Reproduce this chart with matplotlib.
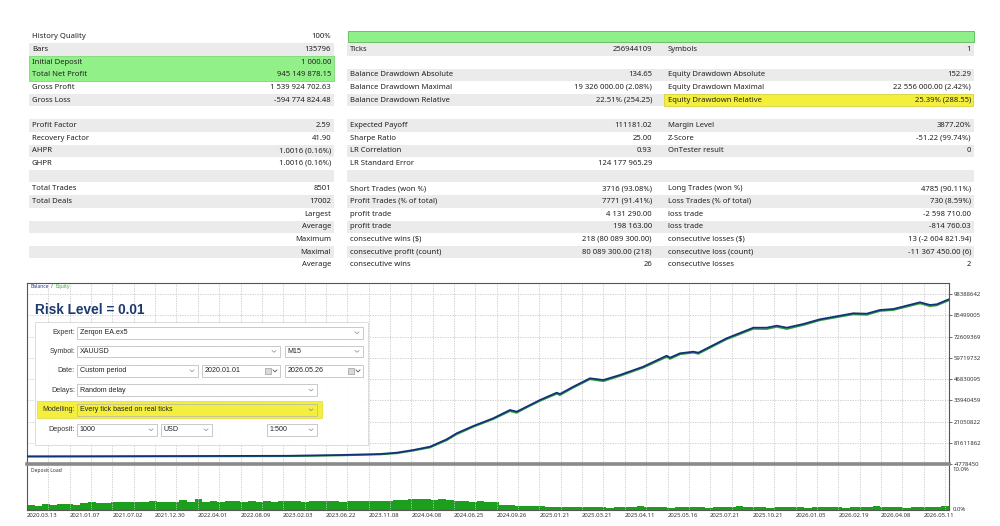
import matplotlib
matplotlib.use("Agg")
import matplotlib.pyplot as plt
from matplotlib.patches import Rectangle
import matplotlib.transforms as mtransforms
import numpy as np

plt.rcParams['font.family'] = ['Noto Sans', 'DejaVu Sans']

# ---------------- report table ----------------
left_labels = ["History Quality", "Bars", "Initial Deposit", "Total Net Profit", "Gross Profit", "Gross Loss", "",
               "Profit Factor", "Recovery Factor", "AHPR", "GHPR", "", "Total Trades", "Total Deals",
               "", "", "", "", ""]
left_values = ["100%", "135796", "1 000.00", "945 149 878.15", "1 539 924 702.63", "-594 774 824.48", "",
               "2.59", "41.90", "1.0016 (0.16%)", "1.0016 (0.16%)", "", "8501", "17002",
               "Largest", "Average", "Maximum", "Maximal", "Average"]
mid_labels = ["", "Ticks", "", "Balance Drawdown Absolute", "Balance Drawdown Maximal", "Balance Drawdown Relative", "",
              "Expected Payoff", "Sharpe Ratio", "LR Correlation", "LR Standard Error", "",
              "Short Trades (won %)", "Profit Trades (% of total)", "profit trade", "profit trade",
              "consecutive wins ($)", "consecutive profit (count)", "consecutive wins"]
mid_values = ["", "256944109", "", "134.65", "19 326 000.00 (2.08%)", "22.51% (254.25)", "",
              "111181.02", "25.00", "0.93", "124 177 965.29", "",
              "3716 (93.08%)", "7771 (91.41%)", "4 131 290.00", "198 163.00",
              "218 (80 089 300.00)", "80 089 300.00 (218)", "26"]
right_labels = ["", "Symbols", "", "Equity Drawdown Absolute", "Equity Drawdown Maximal", "Equity Drawdown Relative", "",
                "Margin Level", "Z-Score", "OnTester result", "", "",
                "Long Trades (won %)", "Loss Trades (% of total)", "loss trade", "loss trade",
                "consecutive losses ($)", "consecutive loss (count)", "consecutive losses"]
right_values = ["", "1", "", "152.29", "22 556 000.00 (2.42%)", "25.39% (288.55)", "",
                "3877.20%", "-51.22 (99.74%)", "0", "", "",
                "4785 (90.11%)", "730 (8.59%)", "-2 598 710.00", "-814 760.03",
                "13 (-2 604 821.94)", "-11 367 450.00 (6)", "2"]

# ---------------- balance / equity (millions, chart units) ----------------
trade_no = [0, 673, 1595, 2397, 2886, 3255, 3409, 3562, 3716, 3870, 3962, 4115, 4299, 4453, 4515,
            4607, 4730, 4884, 4914, 5037, 5191, 5314, 5467, 5682, 5898, 5929, 6021, 6144, 6190,
            6451, 6697, 6820, 6913, 7005, 7158, 7312, 7619, 7742, 7865, 7988, 8234, 8326, 8388, 8501]
balance_m = [0.06, 0.12, 0.24, 0.36, 0.85, 1.45, 2.24, 3.87, 5.87, 10.35, 13.98, 18.40, 23.06, 28.08, 27.05,
             30.08, 34.13, 38.55, 37.76, 42.18, 47.26, 46.23, 49.26, 54.28, 60.94, 59.73, 62.39, 63.36, 62.75,
             71.47, 77.88, 77.88, 79.09, 77.88, 80.12, 82.97, 86.60, 86.36, 88.59, 89.20, 93.25, 91.62, 92.04, 95.07]
equity_m = [0.05, 0.11, 0.22, 0.33, 0.80, 1.38, 2.10, 3.70, 5.60, 10.00, 13.60, 18.10, 22.80, 27.60, 26.60,
            29.80, 33.80, 38.10, 37.30, 41.80, 46.90, 45.70, 48.90, 53.90, 60.40, 59.20, 62.00, 63.00, 62.30,
            71.10, 77.40, 77.30, 78.60, 77.30, 79.70, 82.60, 86.20, 85.90, 88.20, 88.80, 92.80, 91.10, 91.60, 94.70]

# deposit load (%), read left to right at even steps
load_pct = [1.0, 0.9,
            1.2, 1.1, 1.3, 1.2, 1.1,
            1.4, 1.6, 1.5,
            1.5, 1.7, 1.6, 1.8, 1.6, 1.7, 1.9, 1.7, 1.8, 1.7,
            2.2, 1.6, 2.3,
            1.8, 1.9, 1.8, 1.9, 2.0, 1.8, 1.9, 1.8, 1.9, 1.8, 1.9,
            1.9, 2.0, 1.8, 1.9, 1.9, 2.0, 1.9, 1.8, 1.9, 2.0, 2.0, 1.9, 2.0, 1.9, 2.1,
            2.2, 2.4, 2.3, 2.5, 2.2, 2.3,
            2.1, 1.9, 2.0, 1.8, 1.9, 1.7, 1.6,
            1.1, 1.0,
            0.9, 0.8, 0.9, 0.7,
            0.6, 0.5, 0.6, 0.5, 0.6, 0.5,
            0.5, 0.6, 0.4, 0.5, 0.6, 0.5, 0.7, 0.5, 0.6, 0.5, 0.4, 0.6, 0.5, 0.5, 0.6, 0.4,
            0.5, 0.6, 0.5, 0.7, 0.5, 0.5, 0.6, 0.4, 0.5, 0.6, 0.5, 0.5, 0.4, 0.6, 0.5, 0.6,
            0.5, 0.4, 0.6, 0.5, 0.6, 0.7, 0.5, 0.5, 0.6, 0.4, 0.5, 0.6, 0.5, 0.6, 0.7]

y_tick_values = [-4778450, 8111187, 21000822, 33890459, 46780095, 59669732, 72559369, 85449005, 98338642]
y_tick_labels = ["-4778450", "81611862", "21050822", "33940459", "46830095", "59719732",
                 "72609369", "85499005", "98388642"]
x_tick_labels = ["2020.03.13", "2021.01.07", "2021.07.02", "2021.12.30", "2022.04.01", "2022.08.09",
                 "2023.02.03", "2023.06.22", "2023.11.08", "2024.04.08", "2024.06.25", "2024.09.26",
                 "2025.01.21", "2025.03.21", "2025.04.11", "2025.05.16", "2025.07.21", "2025.10.21",
                 "2026.01.05", "2026.02.19", "2026.04.08", "2026.05.11"]

n_trades = 8501

fig = plt.figure(figsize=(10, 5.26), dpi=100)
W, H = 1000, 526


def px_axes(x0, y0, x1, y1):
    return fig.add_axes([x0 / W, 1 - y1 / H, (x1 - x0) / W, (y1 - y0) / H])


# table background layer
tb = fig.add_axes([0, 0, 1, 1])
tb.set_xlim(0, W)
tb.set_ylim(H, 0)
tb.axis('off')

row0, pitch = 36.7, 12.67
for i in range(len(left_labels)):
    c = row0 + pitch * i
    if i % 2 == 1:
        tb.add_patch(Rectangle((29, c - 6.2), 305, 12.4, color='#ebebeb', lw=0))
        tb.add_patch(Rectangle((347, c - 6.2), 627, 12.4, color='#ebebeb', lw=0))

# highlights
tb.add_patch(Rectangle((348, 31), 626, 11, facecolor='#8ff08a', edgecolor='#58b858', lw=0.6))
tb.add_patch(Rectangle((29, row0 + pitch * 2 - 6.4), 305, pitch * 2 + 0.2,
                       facecolor='#92f089', edgecolor='#7bd873', lw=0.6))
tb.add_patch(Rectangle((664, row0 + pitch * 5 - 6.3), 309, 12.6,
                       facecolor='#f3ef3c', edgecolor='#d8d43a', lw=0.6))

tfs = 5.5
for i in range(len(left_labels)):
    c = row0 + pitch * i
    tb.text(32, c, left_labels[i], fontsize=tfs, va='center', ha='left', color='#222222')
    tb.text(331, c, left_values[i], fontsize=tfs, va='center', ha='right', color='#222222')
    tb.text(350, c, mid_labels[i], fontsize=tfs, va='center', ha='left', color='#222222')
    tb.text(652, c, mid_values[i], fontsize=tfs, va='center', ha='right', color='#222222')
    tb.text(668, c, right_labels[i], fontsize=tfs, va='center', ha='left', color='#222222')
    tb.text(971, c, right_values[i], fontsize=tfs, va='center', ha='right', color='#222222')

# ---------------- chart ----------------
y_lo = -4.77845
y_hi = y_lo + (464.3 - 283) * 0.605148
label_step = n_trades * 42.7 / 922
grid_x = np.arange(1, 44) * label_step / 2

ax = px_axes(27, 283, 949, 464.3)
ax.set_xticks(grid_x)
ax.tick_params(axis='x', length=0, labelbottom=False)
ax.set_yticks(np.array(y_tick_values) / 1e6)
ax.set_yticklabels(y_tick_labels)
ax.yaxis.tick_right()
ax.tick_params(axis='y', length=2, width=0.5, pad=1.5, labelsize=4.3, colors='#333333')
ax.grid(True, color='#c8c8c8', linestyle=(0, (1.5, 1.5)), linewidth=0.6)
for s in ['top', 'left', 'right']:
    ax.spines[s].set_color('#555555')
    ax.spines[s].set_linewidth(0.8)
ax.spines['bottom'].set_color('#8a8a8a')
ax.spines['bottom'].set_linewidth(2.6)

shift = mtransforms.offset_copy(ax.transData, fig=fig, x=0, y=-0.35, units='points')
ax.plot(trade_no, equity_m, color='#2e9e3a', lw=1.1, transform=shift, zorder=3)
ax.plot(trade_no, balance_m, color='#13307a', lw=1.3, zorder=4)
ax.set_xlim(0, n_trades)
ax.set_ylim(y_lo, y_hi)

ax.text(0.004, 0.978, "Balance", transform=ax.transAxes, fontsize=3.6, color='#1f3f8f', va='center')
ax.text(0.026, 0.978, "/", transform=ax.transAxes, fontsize=3.6, color='#555555', va='center')
ax.text(0.031, 0.978, "Equity", transform=ax.transAxes, fontsize=3.6, color='#3aa83a', va='center')

# deposit load panel
ax2 = px_axes(27, 465.6, 949, 509.5)
xs = np.linspace(0, n_trades, len(load_pct) + 1)
ax2.stairs(load_pct, xs, fill=True, color='#1c9f1c', lw=0)
ax2.set_xticks(np.arange(len(x_tick_labels)) * label_step)
ax2.set_xticklabels(x_tick_labels, ha='left')
ax2.set_xticks(grid_x, minor=True)
ax2.tick_params(axis='x', which='both', length=0, pad=2.5, labelsize=4.3, colors='#333333')
ax2.grid(True, which='both', axis='x', color='#c8c8c8', linestyle=(0, (1.5, 1.5)), linewidth=0.6)
ax2.set_yticks([])
ax2.set_xlim(0, n_trades)
ax2.set_ylim(0, 10)
ax2.spines['top'].set_visible(False)
for s in ['left', 'right', 'bottom']:
    ax2.spines[s].set_color('#555555')
    ax2.spines[s].set_linewidth(0.8)
ax2.text(0.004, 0.88, "Deposit Load", transform=ax2.transAxes, fontsize=3.6, color='#333333', va='center')
ax2.text(1.004, 0.96, "10.0%", transform=ax2.transAxes, fontsize=4.3, color='#333333', va='top')
ax2.text(1.004, 0.0, "0.0%", transform=ax2.transAxes, fontsize=4.3, color='#333333', va='center')

# ---------------- settings overlay ----------------
ov = fig.add_axes([0, 0, 1, 1], zorder=10)
ov.set_xlim(0, W)
ov.set_ylim(H, 0)
ov.axis('off')
ov.patch.set_alpha(0)

ov.text(35, 310.5, "Risk Level = 0.01", fontsize=9.8, fontweight='bold', color='#1c3a6e',
        family='Liberation Sans', va='center', ha='left')
ov.add_patch(Rectangle((35, 321.7), 333, 123.3, facecolor='white', edgecolor='#d4d4d4', lw=0.6, alpha=0.92))
ov.add_patch(Rectangle((36.7, 400.7), 285.3, 17.6, facecolor='#f4ef3e', edgecolor='#e0da35', lw=0.5))

ffs = 5.1
form_labels = ["Expert:", "Symbol:", "Date:", "Delays:", "Modelling:", "Deposit:"]
form_rows = [332.7, 351.3, 370.7, 390.0, 409.7, 429.7]
for lab, yy in zip(form_labels, form_rows):
    ov.text(75, yy, lab, fontsize=ffs, family='Liberation Sans', ha='right', va='center', color='#333333')

fields = [
    (77, 363, 0, "Zerqon EA.ex5", 'chev'),
    (77, 280, 1, "XAUUSD", 'chev'),
    (285, 363, 1, "M15", 'chev'),
    (77, 198, 2, "Custom period", 'chev'),
    (202, 280, 2, "2020.01.01", 'cal'),
    (285, 363, 2, "2026.05.26", 'cal'),
    (77, 317, 3, "Random delay", 'chev'),
    (77, 317, 4, "Every tick based on real ticks", 'chev'),
    (77, 157, 5, "1000", 'chev'),
    (161, 212, 5, "USD", 'chev'),
    (267, 317, 5, "1:500", 'chev'),
]
for x0, x1, r, txt, kind in fields:
    yy = form_rows[r]
    fc = '#f4ef3e' if r == 4 else 'white'
    ov.add_patch(Rectangle((x0, yy - 5.8), x1 - x0, 11.6, facecolor=fc, edgecolor='#b4b4b4', lw=0.5))
    ov.text(x0 + 2.5, yy, txt, fontsize=ffs, family='Liberation Sans', ha='left', va='center', color='#222222')
    if kind == 'chev':
        cx = x1 - 6
        ov.plot([cx - 2, cx, cx + 2], [yy - 0.8, yy + 1.0, yy - 0.8], color='#8a8a8a', lw=0.5)
    else:
        cx = x1 - 12
        ov.add_patch(Rectangle((cx - 3, yy - 3), 6, 6, facecolor='#d9d9d9', edgecolor='#8a8a8a', lw=0.4))
        ov.plot([cx + 5, cx + 7, cx + 9], [yy - 0.8, yy + 1.2, yy - 0.8], color='#555555', lw=0.6)

fig.savefig("out.png", dpi=100, facecolor='white')
